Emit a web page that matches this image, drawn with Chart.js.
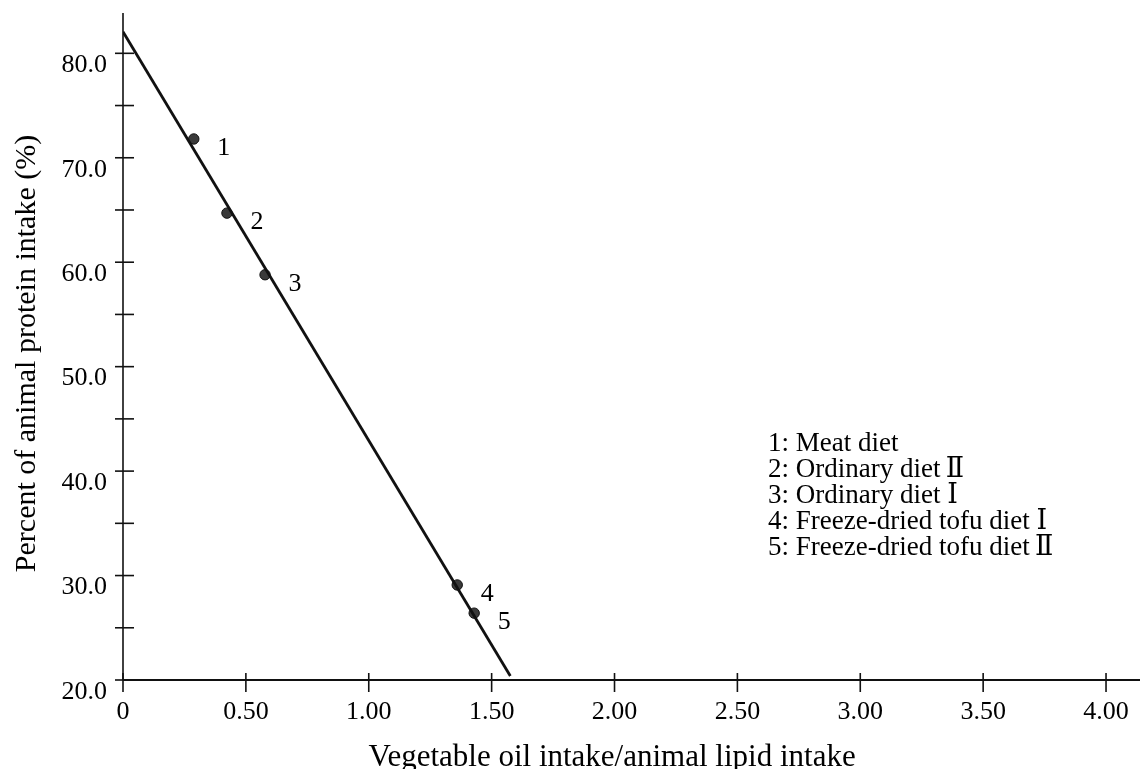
<!DOCTYPE html>
<html>
<head>
<meta charset="utf-8">
<script src="https://cdn.jsdelivr.net/npm/chart.js@4.4.0/dist/chart.umd.min.js"></script>
<style>
  body { margin: 0; background: #fff; }
  #wrap { width: 1140px; height: 769px; }
</style>
</head>
<body>
<div id="wrap"><canvas id="myChart"></canvas></div>
<script>
// Data
const pointIds = ['1', '2', '3', '4', '5'];
const ratioValues = [0.288, 0.423, 0.578, 1.360, 1.429];
const proteinValues = [71.8, 64.7, 58.8, 29.1, 26.4];
const lineX = [0, 1.576];
const lineY = [82.07, 20.38];
const legendLines = [
    '1: Meat diet',
    '2: Ordinary diet\u2009Ⅱ',
    '3: Ordinary diet Ⅰ',
    '4: Freeze-dried tofu diet Ⅰ',
    '5: Freeze-dried tofu diet\u2009Ⅱ'
];
const xTitle = 'Vegetable oil intake/animal lipid intake';
const yTitle = 'Percent of animal protein intake (%)';

const FONT = '"Liberation Serif", "DejaVu Serif", "Times New Roman", serif';
const INK = '#111';

// Axis lines and crossing tick marks
const axisPlugin = {
    id: 'axisLines',
    afterDraw(chart) {
        const { ctx, chartArea, scales } = chart;
        const xs = scales.x, ys = scales.y;
        const x0 = xs.getPixelForValue(0);
        const y0 = ys.getPixelForValue(20);
        ctx.save();
        ctx.strokeStyle = INK;

        ctx.lineWidth = 1.6;
        ctx.beginPath();
        ctx.moveTo(x0, chartArea.top);
        ctx.lineTo(x0, y0);
        ctx.stroke();
        ys.ticks.forEach(t => {
            const py = ys.getPixelForValue(t.value);
            ctx.beginPath();
            ctx.moveTo(x0 - 8, py);
            ctx.lineTo(x0 + 11, py);
            ctx.stroke();
        });

        ctx.lineWidth = 2;
        ctx.beginPath();
        ctx.moveTo(x0, y0);
        ctx.lineTo(chart.width, y0);
        ctx.stroke();
        ctx.lineWidth = 1.6;
        xs.ticks.forEach(t => {
            const px = xs.getPixelForValue(t.value);
            ctx.beginPath();
            ctx.moveTo(px, y0 - 7);
            ctx.lineTo(px, y0 + 12);
            ctx.stroke();
        });
        ctx.restore();
    }
};

// Number labels next to points, the key text and the axis titles
const labelPlugin = {
    id: 'pointLabels',
    afterDraw(chart) {
        const { ctx, scales, chartArea } = chart;
        ctx.save();
        ctx.fillStyle = '#000';
        ctx.font = '26px ' + FONT;
        ctx.textAlign = 'center';
        ctx.textBaseline = 'middle';
        pointIds.forEach((id, i) => {
            const px = scales.x.getPixelForValue(ratioValues[i]);
            const py = scales.y.getPixelForValue(proteinValues[i]);
            ctx.fillText(id, px + 30, py + 9.5);
        });

        ctx.font = '27px ' + FONT;
        ctx.textAlign = 'left';
        ctx.textBaseline = 'alphabetic';
        legendLines.forEach((txt, i) => {
            ctx.fillText(txt, 768, 451 + i * 26);
        });

        // axis titles
        ctx.font = '31px ' + FONT;
        ctx.textAlign = 'center';
        ctx.textBaseline = 'middle';
        ctx.fillText(xTitle, scales.x.getPixelForValue(1.99), chartArea.bottom + 78);
        ctx.font = '30px ' + FONT;
        ctx.translate(27, (chartArea.top + chartArea.bottom) / 2 + 7);
        ctx.rotate(-Math.PI / 2);
        ctx.fillText(yTitle, 0, 0);
        ctx.restore();
    }
};

const ctx = document.getElementById('myChart').getContext('2d');
const chart = new Chart(ctx, {
    type: 'scatter',
    data: {
        datasets: [
            {
                label: 'fit',
                data: lineX.map((x, i) => ({ x: x, y: lineY[i] })),
                showLine: true,
                borderColor: INK,
                borderWidth: 2.8,
                pointRadius: 0
            },
            {
                label: 'diets',
                data: ratioValues.map((x, i) => ({ x: x, y: proteinValues[i] })),
                pointRadius: 5.2,
                backgroundColor: '#3a3a3a',
                borderColor: '#111',
                borderWidth: 1
            }
        ]
    },
    options: {
        responsive: true,
        maintainAspectRatio: false,
        animation: false,
        layout: { padding: { top: 13, right: 0, left: 0, bottom: 0 } },
        plugins: {
            legend: { display: false },
            tooltip: { enabled: false }
        },
        scales: {
            x: {
                type: 'linear',
                min: 0,
                max: 4.113,
                grid: { display: false, drawTicks: false },
                border: { display: false },
                ticks: {
                    stepSize: 0.5,
                    includeBounds: false,
                    autoSkip: false,
                    maxRotation: 0,
                    padding: 17,
                    color: '#000',
                    font: { family: FONT, size: 26 },
                    callback: v => v === 0 ? '0' : v.toFixed(2)
                },
                afterFit(scale) {
                    scale.height = 89;
                    scale.paddingLeft = 0;
                    scale.paddingRight = 0;
                }
            },
            y: {
                type: 'linear',
                min: 20,
                max: 83.86,
                grid: { display: false, drawTicks: false },
                border: { display: false },
                ticks: {
                    stepSize: 5,
                    includeBounds: false,
                    autoSkip: false,
                    padding: 16,
                    labelOffset: 12,
                    color: '#000',
                    font: { family: FONT, size: 26 },
                    callback: v => v % 10 === 0 ? v.toFixed(1) : ''
                },
                afterFit(scale) {
                    scale.width = 123;
                    scale.paddingTop = 0;
                    scale.paddingBottom = 0;
                }
            }
        }
    },
    plugins: [axisPlugin, labelPlugin]
});
</script>
</body>
</html>
